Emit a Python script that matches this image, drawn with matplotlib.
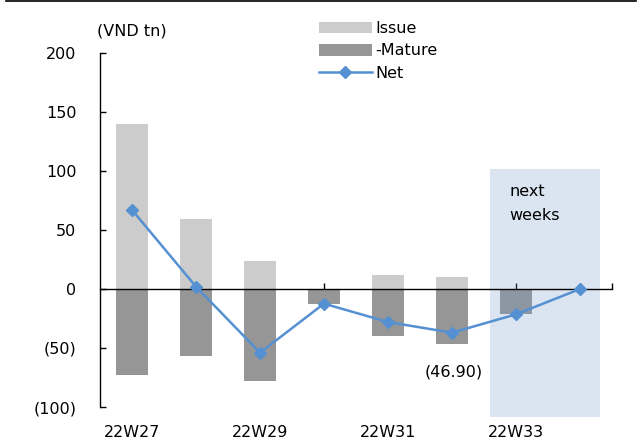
import matplotlib
matplotlib.use("Agg")
import matplotlib.pyplot as plt
from matplotlib.patches import Rectangle

weeks = ["22W27", "22W28", "22W29", "22W30", "22W31", "22W32", "22W33", "22W34"]
issue = [140.0, 59.0, 24.0, 0.0, 12.0, 9.9, 0.0, 0.0]
mature = [-73.0, -57.0, -78.0, -12.4, -40.0, -46.9, -21.5, 0.0]
net = [67.0, 2.0, -54.0, -12.4, -28.0, -37.0, -21.5, 0.0]
yticks = [200, 150, 100, 50, 0, -50, -100]
ytick_labels = ["200", "150", "100", "50", "0", "(50)", "(100)"]
shown_xlabels = ["22W27", "22W29", "22W31", "22W33"]
label_idx = 5

plt.rcParams['font.family'] = ['DejaVu Sans']
FS = 11.5

fig = plt.figure(figsize=(6.42, 4.45), dpi=100)
ax = fig.add_axes([100/642, (445-407)/445, 512/642, (407-53)/445])

x = list(range(len(weeks)))
c_issue = "#CCCCCC"
c_mature = "#969696"
c_net = "#5590D2"

h1 = ax.bar(x, issue, width=0.5, color=c_issue, label="Issue", zorder=2)
h2 = ax.bar(x, mature, width=0.5, color=c_mature, label="-Mature", zorder=2)

# shaded "next weeks" region
rect = Rectangle((5.59, -108.6), 1.72, 210.4, facecolor="#739BCB", alpha=0.25,
                 edgecolor="none", zorder=3, clip_on=False)
ax.add_patch(rect)
ax.text(5.9, 89, "next\nweeks", fontsize=FS, va="top", ha="left", linespacing=1.75, zorder=4)

h3, = ax.plot(x, net, color=c_net, lw=1.8, marker="D", markersize=6, label="Net", zorder=5)

ax.annotate(f"({abs(mature[label_idx]):.2f})", xy=(label_idx, mature[label_idx]),
            xytext=(1, -20), textcoords="offset points", ha="center", va="center",
            fontsize=FS)

ax.set_xlim(-0.5, 7.5)
ax.set_ylim(-100, 200)

for s in ["top", "right"]:
    ax.spines[s].set_visible(False)
ax.spines["bottom"].set_position(("data", 0))
ax.spines["bottom"].set_zorder(4)
ax.spines["left"].set_linewidth(1.0)
ax.spines["bottom"].set_linewidth(1.0)

ax.set_xticks(x + [7.5])
ax.tick_params(axis="x", direction="in", length=4, labelbottom=False, width=1)
ax.set_yticks(yticks)
ax.set_yticklabels(ytick_labels)
ax.tick_params(axis="y", direction="in", length=4, pad=17, labelsize=FS, width=1)

sec = ax.secondary_xaxis(location=0)
sec.set_xticks([weeks.index(w) for w in shown_xlabels])
sec.set_xticklabels(shown_xlabels)
sec.tick_params(length=0, pad=13, labelsize=FS)
sec.spines["bottom"].set_visible(False)

fig.text(97/642, 1 - 31/445, "(VND tn)", fontsize=FS, ha="left", va="center")

leg = ax.legend(handles=[h1, h2, h3], labels=["Issue", "-Mature", "Net"],
                loc="upper left", bbox_to_anchor=(319/642, 1 - 21/445),
                bbox_transform=fig.transFigure, frameon=False, fontsize=FS,
                handlelength=3.3, handleheight=0.75, handletextpad=0.2,
                labelspacing=0.46, borderaxespad=0, borderpad=0)

# top border line
fig.add_artist(plt.Line2D([6/642, 636/642], [1 - 1/445, 1 - 1/445], color="black",
                          lw=1.2, transform=fig.transFigure))

fig.savefig("out.png", dpi=100)
